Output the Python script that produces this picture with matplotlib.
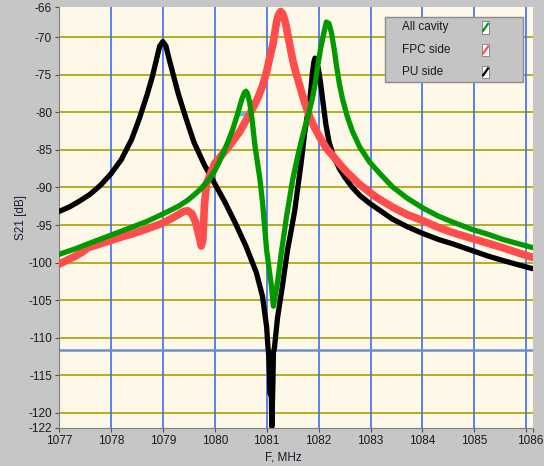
import matplotlib
matplotlib.use("Agg")
import matplotlib.pyplot as plt
from matplotlib.patches import Rectangle
from matplotlib.transforms import ScaledTranslation

plt.rcParams["font.family"] = ["Liberation Sans", "DejaVu Sans"]

# ---------------------------------------------------------------------------
# Data (frequency in MHz, S21 in dB)
# ---------------------------------------------------------------------------
f_all = [1077.0, 1077.3, 1077.56, 1077.98, 1078.4, 1078.7, 1079.04, 1079.3,
         1079.48, 1079.7, 1079.87, 1080.0, 1080.1, 1080.25, 1080.35, 1080.45,
         1080.52, 1080.57, 1080.6, 1080.63, 1080.67, 1080.72, 1080.77, 1080.82,
         1080.87, 1080.92, 1080.96, 1081.0, 1081.05, 1081.09, 1081.13, 1081.17,
         1081.21, 1081.28, 1081.38, 1081.5, 1081.6, 1081.69, 1081.8, 1081.88,
         1081.94, 1081.98, 1082.04, 1082.1, 1082.15, 1082.2, 1082.25, 1082.3,
         1082.34, 1082.4, 1082.46, 1082.55, 1082.65, 1082.79, 1082.98, 1083.2,
         1083.42, 1083.7, 1084.0, 1084.3, 1084.58, 1084.96, 1085.25, 1085.54,
         1085.8, 1086.12]
s_all = [-98.9, -98.2, -97.5, -96.4, -95.3, -94.5, -93.4, -92.5,
         -91.7, -90.4, -89.1, -87.8, -86.4, -84.0, -82.2, -80.0,
         -78.3, -77.4, -77.2, -77.5, -78.6, -81.0, -84.2, -86.6,
         -88.9, -92.0, -95.2, -98.4, -101.0, -103.0, -105.8, -104.2,
         -102.6, -98.8, -94.0, -89.0, -85.8, -83.2, -80.4, -78.2,
         -76.0, -74.0, -71.5, -69.5, -68.0, -68.2, -69.5, -71.6,
         -73.6, -76.2, -78.2, -80.5, -82.5, -84.6, -86.6, -88.3,
         -89.9, -91.4, -92.7, -93.8, -94.6, -95.6, -96.2, -96.9,
         -97.4, -98.0]

f_fpc = [1077.0, 1077.15, 1077.3, 1077.45, 1077.56, 1077.75, 1077.98, 1078.2,
         1078.4, 1078.7, 1078.9, 1079.04, 1079.2, 1079.3, 1079.4, 1079.48,
         1079.56, 1079.63, 1079.7, 1079.74, 1079.77, 1079.8, 1079.84, 1080.0,
         1080.1, 1080.3, 1080.48, 1080.6, 1080.73, 1080.83, 1080.92, 1081.0,
         1081.05, 1081.12, 1081.16, 1081.19, 1081.22, 1081.24, 1081.27, 1081.31,
         1081.36, 1081.41, 1081.46, 1081.5, 1081.56, 1081.63, 1081.7, 1081.76,
         1081.84, 1081.92, 1082.02, 1082.15, 1082.3, 1082.42, 1082.55, 1082.79,
         1083.11, 1083.42, 1083.7, 1084.0, 1084.3, 1084.58, 1084.96, 1085.25,
         1085.54, 1085.8, 1086.12]
s_fpc = [-100.2, -99.7, -99.2, -98.6, -98.0, -97.6, -97.1, -96.6,
         -96.2, -95.5, -95.0, -94.6, -94.0, -93.6, -93.2, -93.1,
         -93.5, -94.6, -96.5, -97.8, -97.0, -92.5, -89.5, -86.8,
         -86.0, -84.3, -82.6, -81.1, -79.5, -78.1, -76.5, -74.6,
         -73.0, -71.0, -69.3, -68.0, -67.2, -66.9, -66.6, -66.9,
         -68.0, -69.8, -71.6, -73.0, -74.7, -76.3, -78.0, -79.3,
         -80.8, -82.0, -83.3, -84.8, -86.0, -87.0, -88.0, -89.6,
         -91.3, -92.6, -93.6, -94.4, -95.3, -96.0, -96.8, -97.4,
         -98.0, -98.6, -99.3]

f_pu = [1077.0, 1077.2, 1077.4, 1077.6, 1077.8, 1078.0, 1078.2, 1078.4,
        1078.55, 1078.7, 1078.8, 1078.88, 1078.94, 1079.0, 1079.06, 1079.12,
        1079.2, 1079.3, 1079.45, 1079.6, 1079.8, 1080.0, 1080.2, 1080.4,
        1080.6, 1080.8, 1080.92, 1081.0, 1081.02, 1081.04, 1081.07, 1081.08,
        1081.1, 1081.12, 1081.13, 1081.15, 1081.21, 1081.31, 1081.4, 1081.47,
        1081.54, 1081.6, 1081.67, 1081.73, 1081.78, 1081.83, 1081.86, 1081.88,
        1081.91, 1081.93, 1081.96, 1082.0, 1082.04, 1082.08, 1082.14, 1082.2,
        1082.28, 1082.4, 1082.5, 1082.65, 1082.8, 1082.98, 1083.17, 1083.42,
        1083.7, 1084.0, 1084.3, 1084.58, 1084.96, 1085.25, 1085.54, 1085.8,
        1086.12]
s_pu = [-93.2, -92.6, -91.8, -90.9, -89.7, -88.2, -86.3, -83.6,
        -80.8, -77.6, -75.2, -72.9, -71.2, -70.6, -71.2, -72.9,
        -75.0, -77.6, -80.9, -84.0, -87.0, -89.5, -92.0, -94.8,
        -97.8, -101.3, -104.5, -108.6, -110.8, -112.5, -117.5, -113.0,
        -121.8, -116.0, -112.0, -111.3, -107.3, -102.8, -98.4, -95.8,
        -93.1, -90.0, -86.4, -82.8, -80.6, -78.4, -76.4, -74.8,
        -73.3, -72.8, -73.2, -74.4, -76.2, -78.4, -81.6, -83.9,
        -85.7, -87.5, -88.6, -90.0, -91.1, -92.1, -93.0, -94.2,
        -95.2, -96.1, -96.9, -97.5, -98.4, -99.1, -99.7, -100.2,
        -100.8]

# short cursor-like segment near the first green peak
f_mark = [1080.48, 1080.68]
s_mark = [-80.2, -80.2]
# horizontal cursor line
s_cursor = -111.6

series_names = ["All cavity", "FPC side", "PU side"]
series_colors = ["#009a00", "#ff4d4d", "#000000"]

x_min, x_max = 1077.0, 1086.13
y_min, y_max = -122.0, -66.0
x_grid = [1078, 1079, 1080, 1081, 1082, 1083, 1084, 1085, 1086]
y_grid = [-120, -115, -110, -105, -100, -95, -90, -85, -80, -75, -70]

# ---------------------------------------------------------------------------
fig = plt.figure(figsize=(5.44, 4.66), dpi=100, facecolor="#c6c6c6")
ax = fig.add_axes([59 / 544, 1 - 428 / 466, 474 / 544, 421 / 466])
ax.set_facecolor("#fdf8e7")

for yg in y_grid:
    ax.axhline(yg, color="#b5ad1c", linewidth=1.4, zorder=1)
for xg in x_grid:
    ax.axvline(xg, color="#3d6cf0", linewidth=1.2, zorder=1)
ax.axhline(s_cursor, color="#6f8fc4", linewidth=1.8, zorder=1)

line_kw = dict(solid_joinstyle="round", solid_capstyle="round")
ax.plot(f_pu, s_pu, color=series_colors[2], linewidth=3.8, zorder=3, **line_kw)
ax.plot(f_fpc, s_fpc, color=series_colors[1], linewidth=5.5, zorder=4, **line_kw)
ax.plot(f_all, s_all, color=series_colors[0], linewidth=3.8, zorder=5, **line_kw)
ax.plot(f_mark, s_mark, color="#45c3f2", linewidth=2.5, zorder=2)

ax.set_xlim(x_min, x_max)
ax.set_ylim(y_min, y_max)

xt = [1077, 1078, 1079, 1080, 1081, 1082, 1083, 1084, 1085, 1086, x_max]
ax.set_xticks(xt)
ax.set_xticklabels([str(v) for v in xt[:-2]] + ["", "1086"])
yt = [-122, -120, -115, -110, -105, -100, -95, -90, -85, -80, -75, -70, -66]
ax.set_yticks(yt)
ax.set_yticklabels([str(v) for v in yt])
ax.tick_params(direction="out", length=3, width=0.8, color="#505050",
               labelsize=8.5, labelcolor="#1a1a1a", pad=2)

# the last x label sits at the right edge of the axis, keep it inside the image
last = ax.get_xticklabels()[-1]
last.set_horizontalalignment("right")
last.set_transform(last.get_transform() + ScaledTranslation(10 / 100, 0, fig.dpi_scale_trans))

for side in ["top", "right"]:
    ax.spines[side].set_visible(False)
for side in ["left", "bottom"]:
    ax.spines[side].set_color("#808080")

ax.set_xlabel("F, MHz", fontsize=8.5, color="#1a1a2a")
ax.xaxis.set_label_coords((283 - 59) / 474, -(451 - 428) / 421)
ax.set_ylabel("S21 [dB]", fontsize=8.5, color="#1a1a3a")
ax.yaxis.set_label_coords(-(59 - 27) / 474, 0.5)

# legend panel drawn in axes coordinates
ax.add_patch(Rectangle((0.688, 0.822), 0.291, 0.154, transform=ax.transAxes,
                       facecolor="#c4c4c4", edgecolor="#8c8c8c",
                       linewidth=1.0, zorder=10, clip_on=False))
row_y = [0.952, 0.898, 0.846]
for name, col, ry in zip(series_names, series_colors, row_y):
    ax.text(0.724, ry, name, transform=ax.transAxes, fontsize=8.5,
            color="#1a1a1a", va="center", ha="left", zorder=11)
    ax.add_patch(Rectangle((0.892, ry - 0.015), 0.016, 0.030,
                           transform=ax.transAxes, facecolor="white",
                           edgecolor="#7a7a7a", linewidth=0.6, zorder=11))
    ax.plot([0.895, 0.905], [ry - 0.008, ry + 0.008], transform=ax.transAxes,
            color=col, linewidth=1.6, zorder=12, clip_on=False)

fig.savefig("out.png", dpi=100, facecolor=fig.get_facecolor())
